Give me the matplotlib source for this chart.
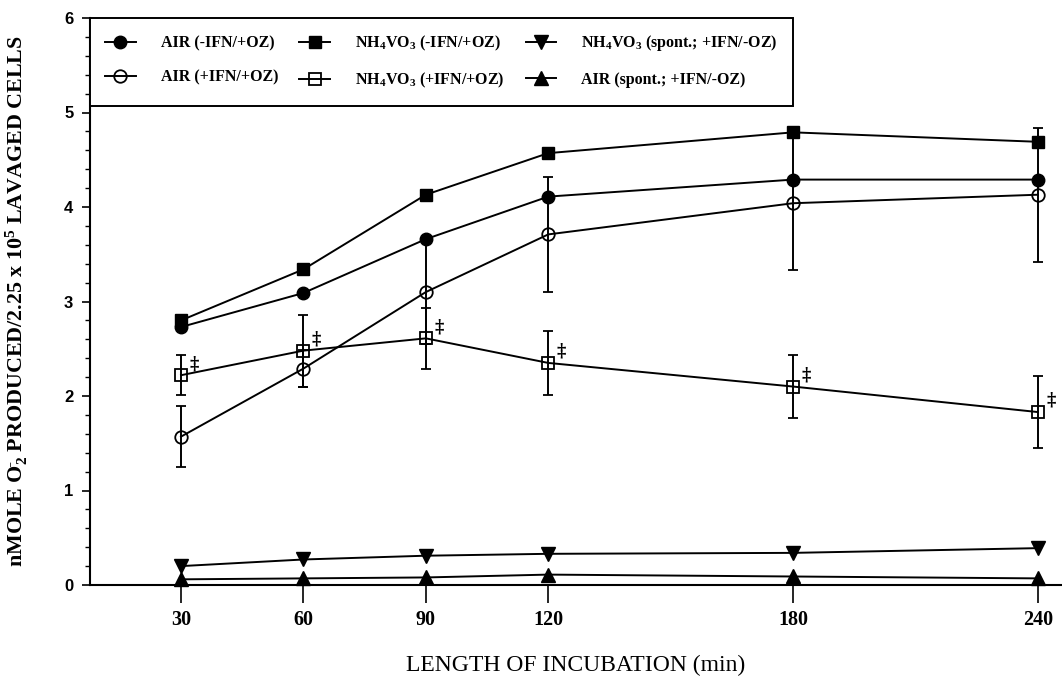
import matplotlib
matplotlib.use("Agg")
import matplotlib.pyplot as plt
from matplotlib.ticker import MultipleLocator, FixedLocator

plt.rcParams['mathtext.fontset'] = 'custom'
plt.rcParams['mathtext.rm'] = 'Liberation Serif'
plt.rcParams['mathtext.it'] = 'Liberation Serif:italic'
plt.rcParams['mathtext.bf'] = 'Liberation Serif:bold'

# ---- data ----
minutes = [30, 60, 90, 120, 180, 240]
air_minus_ifn = [2.73, 3.09, 3.66, 4.11, 4.29, 4.29]
air_plus_ifn = [1.57, 2.29, 3.10, 3.71, 4.04, 4.13]
air_plus_ifn_err = [0.32, 0.20, 0.55, 0.61, 0.71, 0.71]
nh4_minus_ifn = [2.80, 3.34, 4.13, 4.57, 4.79, 4.69]
nh4_plus_ifn = [2.22, 2.48, 2.61, 2.35, 2.10, 1.83]
nh4_plus_ifn_err = [0.21, 0.38, 0.32, 0.34, 0.33, 0.38]
nh4_spont = [0.20, 0.27, 0.31, 0.33, 0.34, 0.39]
air_spont = [0.06, 0.07, 0.08, 0.11, 0.09, 0.07]

labels = ["AIR (-IFN/+OZ)",
          "AIR (+IFN/+OZ)",
          r"NH$\mathregular{_4}$VO$\mathregular{_3}$ (-IFN/+OZ)",
          r"NH$\mathregular{_4}$VO$\mathregular{_3}$ (+IFN/+OZ)",
          r"NH$\mathregular{_4}$VO$\mathregular{_3}$ (spont.; +IFN/-OZ)",
          "AIR (spont.; +IFN/-OZ)"]
x_ticklabels = ["30", "60", "90", "120", "180", "240"]
y_ticks = [0, 1, 2, 3, 4, 5, 6]

fig = plt.figure(figsize=(10.62, 6.82), dpi=100)
ax = fig.add_axes([90/1062, 97/682, 972/1062, 567/682])

lw = 1.4
ms = 9
kw = dict(color='black', lw=lw, clip_on=False)

h1, = ax.plot(minutes, air_minus_ifn, marker='o', ms=ms, mfc='black', mec='black', **kw)
e2 = ax.errorbar(minutes, air_plus_ifn, yerr=air_plus_ifn_err, marker='o', ms=ms,
                 mfc='none', mec='black', mew=1.3, ecolor='black', elinewidth=1.4,
                 capsize=3.5, capthick=1.4, **kw)
h3, = ax.plot(minutes, nh4_minus_ifn, marker='s', ms=ms, mfc='black', mec='black', **kw)
e4 = ax.errorbar(minutes, nh4_plus_ifn, yerr=nh4_plus_ifn_err, marker='s', ms=ms,
                 mfc='none', mec='black', mew=1.3, ecolor='black', elinewidth=1.4,
                 capsize=3.5, capthick=1.4, **kw)
h5, = ax.plot(minutes, nh4_spont, marker='v', ms=ms + 1, mfc='black', mec='black', **kw)
h6, = ax.plot(minutes, air_spont, marker='^', ms=ms + 1, mfc='black', mec='black', **kw)
h2 = e2.lines[0]
h4 = e4.lines[0]

# double dagger marks beside the NH4VO3 (+IFN/+OZ) points
for xv, yv in zip(minutes, nh4_plus_ifn):
    ax.annotate("\u2021", (xv, yv), xytext=(9.5, 8), textcoords='offset points',
                ha='center', va='center', fontsize=13, fontweight='bold',
                family='DejaVu Serif')

ax.set_xlim(7.7, 245.9)
ax.set_ylim(0, 6)

for s in ['top', 'right']:
    ax.spines[s].set_visible(False)
for s in ['left', 'bottom']:
    ax.spines[s].set_linewidth(1.5)

ax.xaxis.set_major_locator(FixedLocator(minutes))
ax.set_xticklabels(x_ticklabels, family='Liberation Serif', fontweight='bold', fontsize=14.5)
ax.tick_params(axis='x', direction='out', length=13, width=1.2, pad=5)

ax.set_yticks(y_ticks)
ax.set_yticklabels([str(v) for v in y_ticks], family='Liberation Sans', fontweight='bold', fontsize=12)
ax.yaxis.set_minor_locator(MultipleLocator(0.2))
ax.tick_params(axis='y', which='major', direction='out', length=6, width=1.2, pad=6)
ax.tick_params(axis='y', which='minor', direction='out', length=3.5, width=1.0)

ax.set_xlabel("LENGTH OF INCUBATION (min)", family='Liberation Serif', fontsize=17)
ax.xaxis.set_label_coords(0.5, -(655 - 585) / 567)
ax.set_ylabel(r"nMOLE O$\mathregular{_2^{\bar{}}}$ PRODUCED/2.25 x 10$\mathregular{^5}$ LAVAGED CELLS",
              family='Liberation Serif', fontsize=15.8, fontweight='bold')
ax.yaxis.set_label_coords(-(90 - 30) / 972, 0.5)

leg = ax.legend([h1, h2, h3, h4, h5, h6], labels, ncol=3,
                loc='upper left', bbox_to_anchor=(0, 1),
                borderaxespad=0, fancybox=False, framealpha=1,
                edgecolor='black', handlelength=1.9, handletextpad=1.6,
                borderpad=0.95, labelspacing=1.15, columnspacing=1.3,
                prop={'family': 'Liberation Serif', 'size': 11.5, 'weight': 'bold'})
leg.get_frame().set_linewidth(1.4)

fig.savefig("out.png", dpi=100)
